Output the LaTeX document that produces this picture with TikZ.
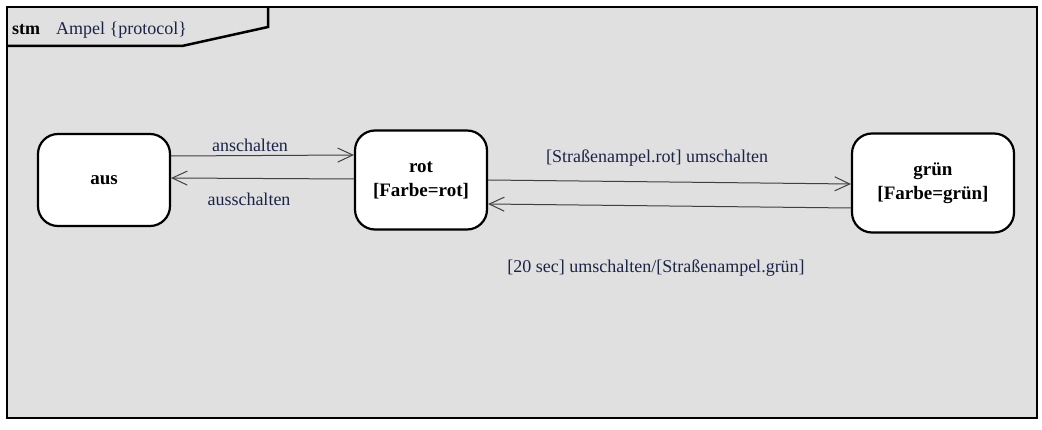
\documentclass[tikz,border=0pt]{standalone}
\usepackage{fontspec}
\setmainfont{Liberation Serif}
\usetikzlibrary{arrows.meta}
\definecolor{framegray}{HTML}{E0E0E0}
\definecolor{labelblue}{HTML}{1A2448}
\tikzset{
  state/.style={draw=black, line width=2.2pt, fill=white, rounded corners=20pt,
    minimum width=#1, align=center, font=\fontsize{19}{24}\selectfont\bfseries, text=black},
  trans/.style={draw=black!75, line width=1pt, -{Straight Barb[length=15pt,width=14pt,line width=1pt]}},
  tlabel/.style={text=labelblue, font=\fontsize{18}{22}\selectfont, inner sep=0pt}
}
\begin{document}
\begin{tikzpicture}[x=1pt,y=-1pt]
\useasboundingbox (0,0) rectangle (1042,430);
% frame
\draw[line width=2.5pt, fill=framegray] (7,7) rectangle (1037,418);
\draw[line width=2.5pt] (7,46) -- (182,46) -- (268,27) -- (268,7);
\node[anchor=base west, inner sep=0pt, font=\fontsize{18}{22}\selectfont] (title) at (12,35) {\textbf{stm}\hspace{16pt}\textcolor{labelblue}{Ampel \{protocol\}}};
% states
\node[state=132pt, minimum height=92pt] (aus) at (104,180) {aus};
\node[state=132pt, minimum height=99pt] (rot) at (421,180) {rot\\{[}Farbe=rot{]}};
\node[state=162pt, minimum height=99pt] (gruen) at (933,183) {grün\\{[}Farbe=grün{]}};
% transitions
\draw[trans] (aus.east |- 0,156) -- (rot.west |- 0,155);
\draw[trans] (rot.west |- 0,179) -- (aus.east |- 0,178);
\draw[trans] (rot.east |- 0,180) -- (gruen.west |- 0,184);
\draw[trans] (gruen.west |- 0,208) -- (rot.east |- 0,204);
% labels
\node[tlabel] (l1) at (250,145) {anschalten};
\node[tlabel] (l2) at (249,199) {ausschalten};
\node[tlabel] (l3) at (657,158) {[Straßenampel.rot] umschalten};
\node[tlabel] (l4) at (656,268) {[20 sec] umschalten/[Straßenampel.grün]};
\end{tikzpicture}
\end{document}
